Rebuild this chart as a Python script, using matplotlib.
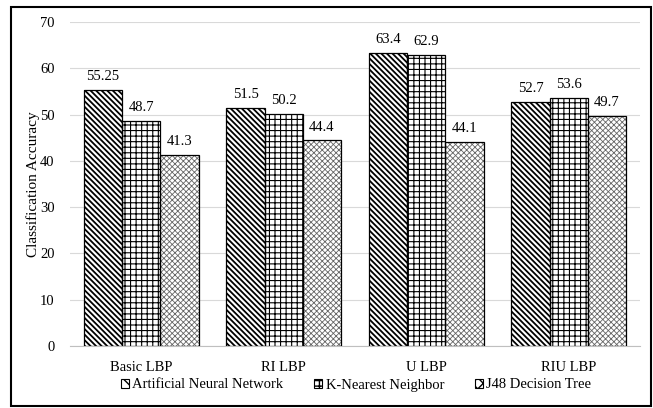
import numpy as np
import matplotlib
matplotlib.use('Agg')
import matplotlib.pyplot as plt
from matplotlib.patches import Rectangle, Patch

CATEGORIES = ['Basic LBP', 'RI LBP', 'U LBP', 'RIU LBP']
SERIES = ['Artificial Neural Network', 'K-Nearest Neighbor', 'J48 Decision Tree']
ANN = [55.25, 51.5, 63.4, 52.7]
KNN = [48.7, 50.2, 62.9, 53.6]
J48 = [41.3, 44.4, 44.1, 49.7]
LABELS = [['55.25', '51.5', '63.4', '52.7'],
          ['48.7', '50.2', '62.9', '53.6'],
          ['41.3', '44.4', '44.1', '49.7']]

HATCHES = ['\\' * 6, '+++', 'x' * 6]
HATCH_COLORS = ['black', 'black', '#666666']
HATCH_LW = [1.3, 0.8, 0.6]

plt.rcParams['font.family'] = 'Liberation Serif'


def main():
    fig = plt.figure(figsize=(6.53, 4.08), dpi=100)
    ax = fig.add_axes([70 / 653, 1 - 346 / 408, 570 / 653, 324 / 408])

    x = np.arange(len(CATEGORIES))
    width = 0.268
    values = [ANN, KNN, J48]
    handles = []
    for i, vals in enumerate(values):
        pos = x + (i - 1) * width
        with plt.rc_context({'hatch.linewidth': HATCH_LW[i]}):
            ax.bar(pos, vals, width, color='white', edgecolor=HATCH_COLORS[i],
                   hatch=HATCHES[i], linewidth=0, zorder=2)
            handles.append(Patch(facecolor='white', edgecolor='black',
                                 hatch=HATCHES[i][:3], linewidth=0.8))
        ax.bar(pos, vals, width, fill=False, edgecolor='black', linewidth=0.9, zorder=3)
        for p, v, lab in zip(pos, vals, LABELS[i]):
            ax.annotate(lab, (p, v), xytext=(0, 5), textcoords='offset points',
                        ha='center', va='bottom', fontsize=10.5)

    ax.set_ylim(0, 70)
    ax.set_xlim(-0.5, len(CATEGORIES) - 0.5)
    ax.set_yticks(range(0, 71, 10))
    ax.set_xticks(x)
    ax.set_xticklabels(CATEGORIES)
    ax.tick_params(length=0, labelsize=10.5)
    ax.tick_params(axis='y', pad=11)
    ax.tick_params(axis='x', pad=11)
    ax.grid(axis='y', color='#d9d9d9', linewidth=0.8, zorder=0)
    ax.set_axisbelow(True)
    for s in ['top', 'right', 'left']:
        ax.spines[s].set_visible(False)
    ax.spines['bottom'].set_color('#bfbfbf')
    ax.set_ylabel('Classification Accuracy', fontsize=11, labelpad=0)

    fig.legend(handles, SERIES, loc='center', bbox_to_anchor=(356 / 653, 1 - 385 / 408), ncol=3,
               frameon=False, fontsize=10.5, handlelength=0.55, handleheight=0.55,
               handletextpad=0.25, columnspacing=2.1, borderpad=0)

    fig.patches.append(Rectangle((11 / 653, 2 / 408), 640 / 653, 399 / 408,
                                 transform=fig.transFigure, fill=False,
                                 edgecolor='black', linewidth=1.5))

    fig.savefig('out.png', dpi=100)


if __name__ == '__main__':
    main()
